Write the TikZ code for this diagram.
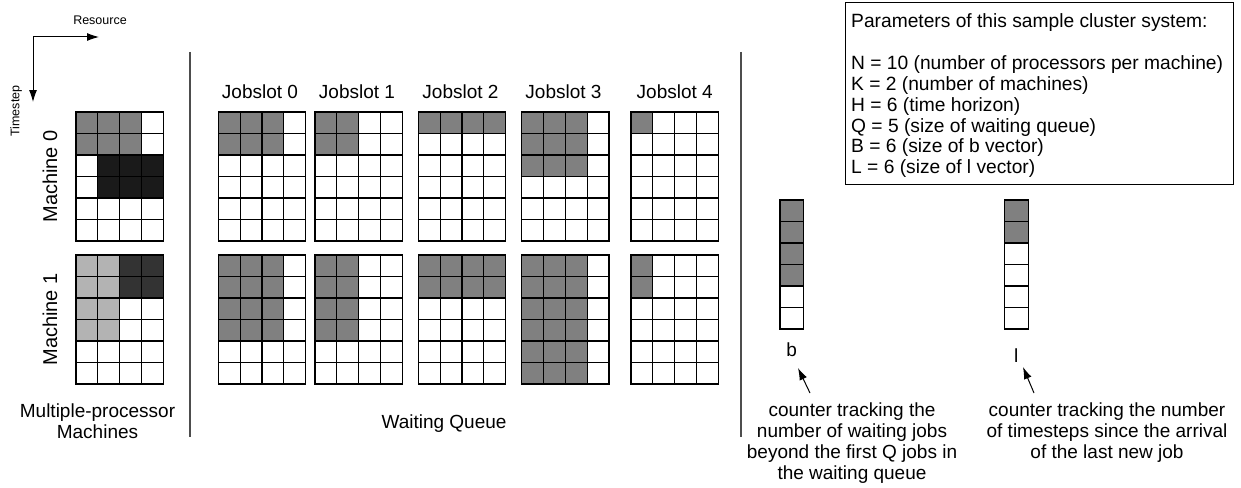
\documentclass[tikz,border=0pt]{standalone}
\usepackage{fontspec}
\setmainfont{Liberation Sans}
\usetikzlibrary{arrows.meta}
\definecolor{jobgray}{HTML}{808080}
\definecolor{darkA}{HTML}{1A1A1A}
\definecolor{lightB}{HTML}{B3B3B3}
\definecolor{darkB}{HTML}{333333}
\definecolor{sepgray}{HTML}{4D4D4D}
% grid: x0 y0 cellwidth ncols (6 rows of 21.5)
\newcommand{\cellgrid}[4]{%
  \begin{scope}[shift={(#1,#2)}]
    \foreach \i in {0,...,#4} \draw[gridline] ({\i*#3},0) -- ({\i*#3},129);
    \foreach \j in {0,...,6} \draw[gridline] (0,{\j*21.5}) -- ({#4*#3},{\j*21.5});
  \end{scope}}
% fill block: x0 y0 c1 r1 c2 r2 colour (uses \cw)
\newcommand{\cells}[7]{%
  \fill[#7] ({#1+#3*\cw},{#2+#4*21.5}) rectangle ({#1+(#5+1)*\cw},{#2+(#6+1)*21.5});}
\begin{document}
\begin{tikzpicture}[x=1pt,y=-1pt,
  gridline/.style={line width=1.2pt, black, line cap=rect},
  lbl/.style={inner sep=0pt, anchor=base, font=\fontsize{19}{21}\selectfont},
  plbl/.style={inner sep=0pt, anchor=base west, font=\fontsize{19.2}{21}\selectfont},
  mlbl/.style={inner sep=0pt, anchor=base, rotate=90, font=\fontsize{20}{22}\selectfont},
  small/.style={inner sep=0pt, anchor=base, font=\fontsize{12.5}{14}\selectfont},
  sep/.style={line width=1.3pt, sepgray},
  ptr/.style={line width=1pt, -{Latex[length=12pt,width=8pt]}}]
\useasboundingbox (0,0) rectangle (1241,487);

% axes
\coordinate (origin) at (33,37);
\coordinate (resend) at (99,37);
\coordinate (timeend) at (33,102);
\draw[ptr] (origin) -- (resend);
\draw[ptr] (origin) -- (timeend);
\node[small] (resource) at (100,24.5) {Resource};
\node[small, rotate=90] (timestep) at (19.5,111) {Timestep};

% separators
\coordinate (s1top) at (190,52); \coordinate (s1bot) at (190,437);
\coordinate (s2top) at (741,52); \coordinate (s2bot) at (741,437);
\draw[sep] (s1top) -- (s1bot);
\draw[sep] (s2top) -- (s2bot);

\def\cw{21.8}
% Machine 0
\cells{76}{112}{0}{0}{2}{1}{jobgray}
\cells{76}{112}{1}{2}{3}{3}{darkA}
\cellgrid{76}{112}{21.8}{4}
% Machine 1
\cells{76}{255}{0}{0}{1}{3}{lightB}
\cells{76}{255}{2}{0}{3}{1}{darkB}
\cellgrid{76}{255}{21.8}{4}
\node[mlbl] (m0) at (57,176.5) {Machine 0};
\node[mlbl] (m1) at (57,319.5) {Machine 1};

% Jobslot 0
\cells{218.3}{112}{0}{0}{2}{1}{jobgray}
\cells{218.3}{255}{0}{0}{2}{3}{jobgray}
% Jobslot 1
\cells{315}{112}{0}{0}{1}{1}{jobgray}
\cells{315}{255}{0}{0}{1}{3}{jobgray}
% Jobslot 2
\cells{418.3}{112}{0}{0}{3}{0}{jobgray}
\cells{418.3}{255}{0}{0}{3}{1}{jobgray}
% Jobslot 3
\cells{521.7}{112}{0}{0}{2}{2}{jobgray}
\cells{521.7}{255}{0}{0}{2}{5}{jobgray}
% Jobslot 4
\cells{631}{112}{0}{0}{0}{0}{jobgray}
\cells{631}{255}{0}{0}{0}{1}{jobgray}
\foreach \x in {218.3,315,418.3,521.7,631} {
  \cellgrid{\x}{112}{21.8}{4}
  \cellgrid{\x}{255}{21.8}{4}
}
\node[lbl] (js0) at (260,98) {Jobslot 0};
\node[lbl] (js1) at (357,98) {Jobslot 1};
\node[lbl] (js2) at (460.5,98) {Jobslot 2};
\node[lbl] (js3) at (563.5,98) {Jobslot 3};
\node[lbl] (js4) at (674.7,98) {Jobslot 4};

% b and l vectors
\def\cw{23.3}
\cells{780}{200}{0}{0}{0}{3}{jobgray}
\cellgrid{780}{200}{23.3}{1}
\def\cw{24}
\cells{1004.3}{200}{0}{0}{0}{1}{jobgray}
\cellgrid{1004.3}{200}{24}{1}
\node[lbl] (blabel) at (791.6,356) {b};
\node[lbl] (llabel) at (1016.3,362) {l};

% bottom labels
\node[lbl] (mp1) at (97.5,417) {Multiple-processor};
\node[lbl] (mp2) at (97.5,438) {Machines};
\node[lbl] (wq) at (444,428) {Waiting Queue};

\node[lbl] (bc1) at (852,416) {counter tracking the};
\node[lbl] (bc2) at (852,437) {number of waiting jobs};
\node[lbl] (bc3) at (852,458) {beyond the first Q jobs in};
\node[lbl] (bc4) at (852,479) {the waiting queue};
\node[lbl] (lc1) at (1107,416) {counter tracking the number};
\node[lbl] (lc2) at (1107,437) {of timesteps since the arrival};
\node[lbl] (lc3) at (1107,458) {of the last new job};

\coordinate (btail) at (810,393); \coordinate (btip) at (798,368);
\coordinate (ltail) at (1034,393); \coordinate (ltip) at (1023,367);
\draw[ptr] (btail) -- (btip);
\draw[ptr] (ltail) -- (ltip);

% parameter box
\node[draw, line width=1pt, inner sep=0pt, minimum width=387.7pt, minimum height=182.3pt, anchor=north west] (parambox) at (845,1.7) {};
\node[plbl] (p0) at (851,28) {Parameters of this sample cluster system:};
\node[plbl] (p1) at (851,69.6) {N = 10 (number of processors per machine)};
\node[plbl] (p2) at (851,90.4) {K = 2 (number of machines)};
\node[plbl] (p3) at (851,111.2) {H = 6 (time horizon)};
\node[plbl] (p4) at (851,132) {Q = 5 (size of waiting queue)};
\node[plbl] (p5) at (851,152.8) {B = 6 (size of b vector)};
\node[plbl] (p6) at (851,173.6) {L = 6 (size of l vector)};
\end{tikzpicture}
\end{document}
